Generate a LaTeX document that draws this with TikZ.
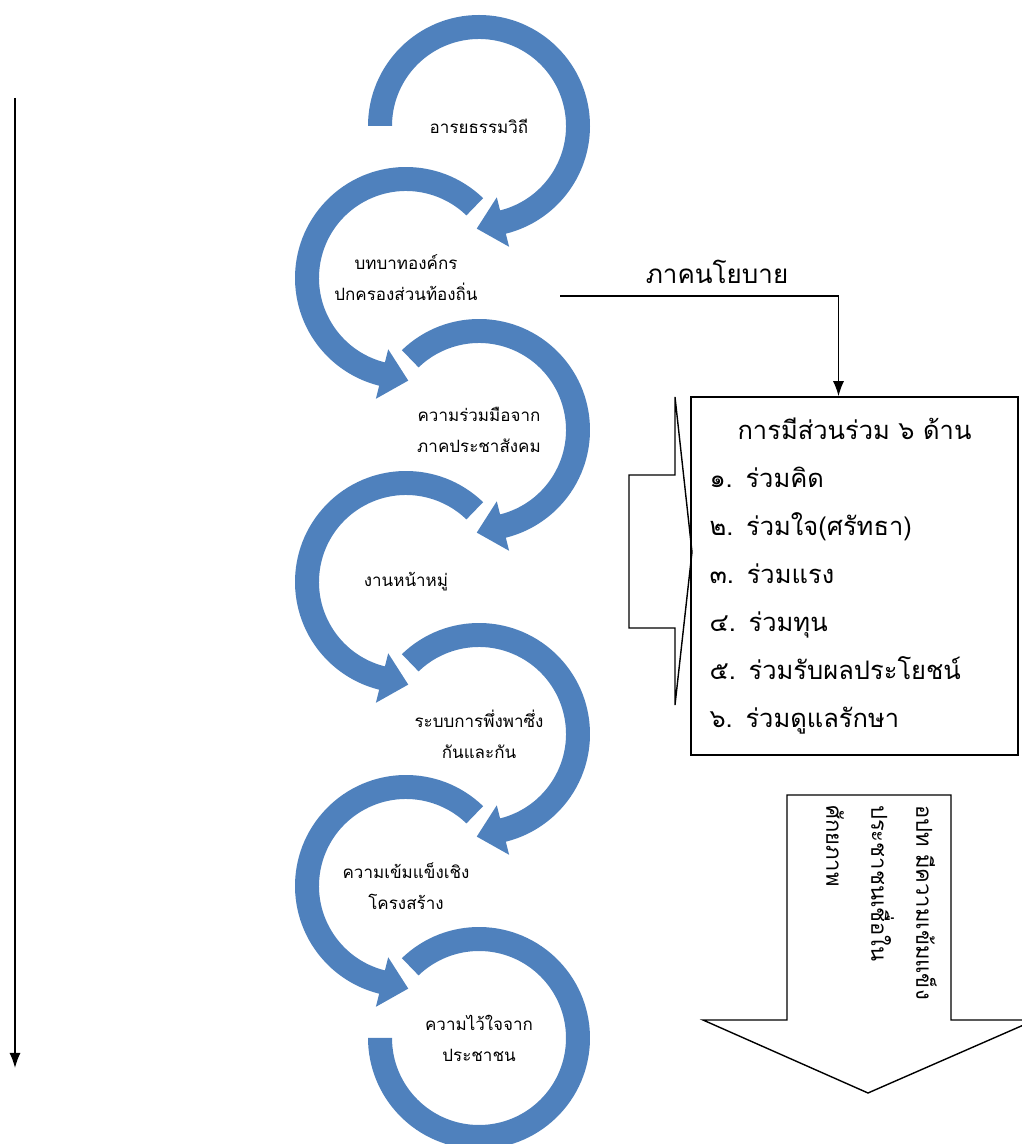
\documentclass[tikz,border=0pt]{standalone}
\usepackage{fontspec}
\setmainfont[Script=Thai]{Loma}
\usetikzlibrary{arrows.meta,calc}
\definecolor{ringblue}{RGB}{79,129,189}
\tikzset{%
  >={Latex[width=11pt,length=15pt]},
     ring/.style = {fill=ringblue},
    stage/.style = {align=center, inner sep=0pt, font=\fontsize{17}{31}\selectfont},
  listbox/.style = {rectangle, draw=black, line width=1.5pt, minimum width=327pt,
                    minimum height=358pt, text width=290pt, align=left, inner sep=0pt,
                    font=\fontsize{25.5}{48}\selectfont},
    plain/.style = {draw=black, line width=1.4pt},
}
% clockwise ring: centre, start angle, end angle
\newcommand{\cwring}[3]{%
  \fill[ring] ($(#1)+(#2:111pt)$) arc[start angle=#2, end angle=#3, radius=111pt]
    -- ($(#1)+(#3:124.5pt)$) -- ($(#1)+(#3:99pt)+(#3-90:27pt)$)
    -- ($(#1)+(#3:73.5pt)$) -- ($(#1)+(#3:87pt)$)
    arc[start angle=#3, end angle=#2, radius=87pt] -- cycle;}
% counter-clockwise ring
\newcommand{\ccwring}[3]{%
  \fill[ring] ($(#1)+(#2:111pt)$) arc[start angle=#2, end angle=#3, radius=111pt]
    -- ($(#1)+(#3:124.5pt)$) -- ($(#1)+(#3:99pt)+(#3+90:27pt)$)
    -- ($(#1)+(#3:73.5pt)$) -- ($(#1)+(#3:87pt)$)
    arc[start angle=#3, end angle=#2, radius=87pt] -- cycle;}

\begin{document}
\begin{tikzpicture}[x=1pt, y=1pt]
  \useasboundingbox (0,0) rectangle (1022,1144);
  \clip (0,0) rectangle (1022,1144);

  \coordinate (c1) at (479,1018);
  \coordinate (c2) at (406,866);
  \coordinate (c3) at (479,714);
  \coordinate (c4) at (406,562);
  \coordinate (c5) at (479,410);
  \coordinate (c6) at (406,258);
  \coordinate (c7) at (479,106);

  \cwring{c1}{180}{-76}
  \ccwring{c2}{46}{256}
  \cwring{c3}{134}{-76}
  \ccwring{c4}{46}{256}
  \cwring{c5}{134}{-76}
  \ccwring{c6}{46}{256}
  \fill[ring] ($(c7)+(134:111pt)$) arc[start angle=134, end angle=-180, radius=111pt]
    -- ($(c7)+(-180:87pt)$) arc[start angle=-180, end angle=134, radius=87pt] -- cycle;

  \node (s1) [stage] at (c1) {อารยธรรมวิถี};
  \node (s2) [stage] at (c2) {บทบาทองค์กร\\ปกครองส่วนท้องถิ่น};
  \node (s3) [stage] at (c3) {ความร่วมมือจาก\\ภาคประชาสังคม};
  \node (s4) [stage] at (c4) {งานหน้าหมู่};
  \node (s5) [stage] at (c5) {ระบบการพึ่งพาซึ่ง\\กันและกัน};
  \node (s6) [stage] at (c6) {ความเข้มแข็งเชิง\\โครงสร้าง};
  \node (s7) [stage] at (c7) {ความไว้ใจจาก\\ประชาชน};

  % time line on the left
  \coordinate (timetop)    at (15,1046);
  \coordinate (timebottom) at (15,76);
  \draw[->, line width=1.4pt] (timetop) -- (timebottom);

  % participation box
  \node (parts) [listbox] at (854.5,568)
  {\makebox[290pt]{การมีส่วนร่วม ๖ ด้าน}\\
   ๑. ร่วมคิด\\
   ๒. ร่วมใจ(ศรัทธา)\\
   ๓. ร่วมแรง\\
   ๔. ร่วมทุน\\
   ๕. ร่วมรับผลประโยชน์\\
   ๖. ร่วมดูแลรักษา};

  \coordinate (policystart) at (560,848);
  \node (policy) [font=\fontsize{26}{28}\selectfont] at (717,872) {ภาคนโยบาย};
  \draw[->, line width=1.4pt] (policystart) -| ([xshift=-16pt]parts.north);

  % bracket pointing at the box
  \draw[plain] (629,669) -- (675,669) -- (675,747) -- (692,592) -- (675,439)
               -- (675,516) -- (629,516) -- cycle;

  % result arrow
  \draw[plain] (787,349) -- (951,349) -- (951,124) -- (1035,124) -- (868,51)
               -- (703,124) -- (787,124) -- cycle;
  \node (result) [rotate=-90, anchor=north west, align=left, inner sep=0pt,
                  font=\fontsize{22}{45}\selectfont] at (937,339)
  {อปท มีความเข้มแข็ง\\ประชาชนเชื่อใน\\ศักยภาพ};
\end{tikzpicture}
\end{document}
